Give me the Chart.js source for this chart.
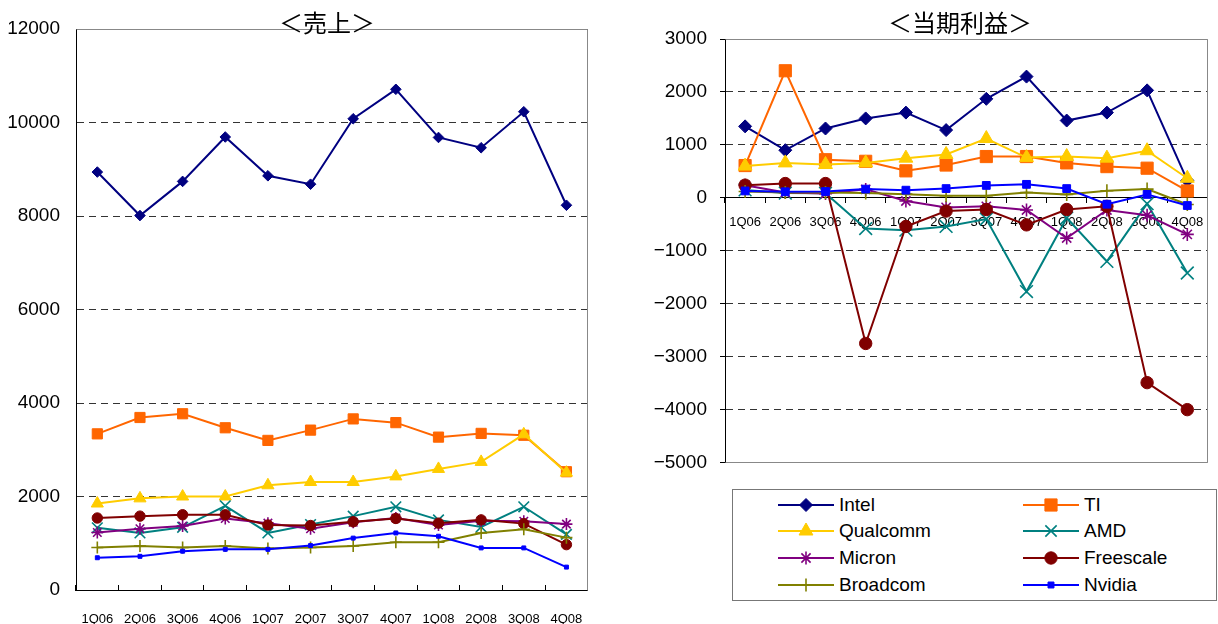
<!DOCTYPE html>
<html>
<head>
<meta charset="utf-8">
<title>売上・当期利益</title>
<script src="https://cdn.jsdelivr.net/npm/chart.js@4.4.1/dist/chart.umd.min.js"></script>
<style>
  html, body { margin: 0; padding: 0; background: #fff; }
  #page { position: relative; width: 1218px; height: 624px; overflow: hidden; font-family: "Liberation Sans", Arial, sans-serif; color: #000; }
  #page canvas { position: absolute; }
  #salesChart { left: 0; top: 0; }
  #profitChart { left: 610px; top: 0; }
  .title { position: absolute; top: 10px; font-family: "Noto Sans CJK JP", sans-serif; font-size: 24px; line-height: 24px; white-space: nowrap; transform: translateX(-50%); }
  #legendBox { position: absolute; left: 732px; top: 489px; width: 485px; height: 112px; box-sizing: border-box; border: 1px solid #777; }
  .legend-item { position: absolute; height: 24px; display: flex; align-items: center; font-size: 19px; white-space: nowrap; }
  .legend-item canvas { position: static !important; margin-right: 5px; }
</style>
</head>
<body>
<div id="page">
  <canvas id="salesChart" width="610" height="624"></canvas>
  <canvas id="profitChart" width="608" height="487"></canvas>
  <div class="title" style="left:327px">＜売上＞</div>
  <div class="title" style="left:960px">＜当期利益＞</div>
  <div id="legendBox"></div>
  <div id="legend"></div>
</div>
<script>
const quarters = ["1Q06", "2Q06", "3Q06", "4Q06", "1Q07", "2Q07", "3Q07", "4Q07", "1Q08", "2Q08", "3Q08", "4Q08"];
const companies = ["Intel", "TI", "Qualcomm", "AMD", "Micron", "Freescale", "Broadcom", "Nvidia"];

// 売上
const salesIntel = [8940, 8010, 8740, 9690, 8860, 8680, 10080, 10710, 9680, 9460, 10230, 8230];
const salesTI = [3340, 3690, 3770, 3470, 3200, 3420, 3660, 3580, 3270, 3350, 3310, 2530];
const salesQualcomm = [1850, 1960, 2000, 2000, 2240, 2310, 2310, 2430, 2590, 2740, 3330, 2510];
const salesAMD = [1330, 1220, 1340, 1800, 1220, 1400, 1580, 1780, 1500, 1350, 1780, 1190];
const salesMicron = [1230, 1310, 1370, 1530, 1430, 1310, 1450, 1540, 1390, 1480, 1470, 1410];
const salesFreescale = [1540, 1580, 1610, 1610, 1390, 1380, 1460, 1530, 1430, 1500, 1420, 970];
const salesBroadcom = [910, 940, 910, 940, 890, 910, 940, 1020, 1020, 1220, 1300, 1120];
const salesNvidia = [690, 720, 830, 870, 870, 950, 1110, 1220, 1150, 900, 900, 490];

// 当期利益
const profitIntel = [1350, 900, 1310, 1500, 1610, 1280, 1870, 2290, 1460, 1610, 2030, 330];
const profitTI = [610, 2400, 720, 690, 510, 620, 780, 780, 660, 590, 560, 130];
const profitQualcomm = [600, 660, 630, 660, 750, 820, 1120, 760, 780, 750, 890, 370];
const profitAMD = [150, 90, 85, -580, -610, -540, -400, -1770, -380, -1200, -110, -1420];
const profitMicron = [240, 100, 80, 160, -60, -180, -160, -230, -760, -230, -330, -690];
const profitFreescale = [240, 270, 270, -2750, -540, -250, -220, -510, -220, -160, -3490, -4000];
const profitBroadcom = [120, 100, 100, 90, 70, 40, 40, 100, 65, 135, 165, -125];
const profitNvidia = [130, 115, 120, 165, 145, 175, 235, 255, 175, -120, 65, -145];

const salesTicks = [0, 2000, 4000, 6000, 8000, 10000, 12000];
const profitTicks = [-5000, -4000, -3000, -2000, -1000, 0, 1000, 2000, 3000];

const salesSeries = [salesIntel, salesTI, salesQualcomm, salesAMD, salesMicron, salesFreescale, salesBroadcom, salesNvidia];
const profitSeries = [profitIntel, profitTI, profitQualcomm, profitAMD, profitMicron, profitFreescale, profitBroadcom, profitNvidia];

const seriesColors = ["#000080", "#FF6600", "#FFCC00", "#008080", "#800080", "#800000", "#808000", "#0000FF"];
const pointStyles = ["rectRot", "rect", "triangle", "crossRot", "star", "circle", "cross", "rect"];
const salesRadii = [5.3, 7.2, 7, 7.5, 6, 5.2, 6, 2.8];
const profitRadii = [6.5, 8.6, 8, 9, 6.5, 6.2, 6.5, 5.5];
const legendRadii = [6.5, 8.6, 8, 8, 6.5, 6.2, 6.5, 4.2];
const strokeOnly = ["crossRot", "star", "cross"];

Chart.defaults.font.family = "'Liberation Sans', Arial, sans-serif";
Chart.defaults.color = "#000";

function buildDatasets(seriesList, radii) {
  return companies.map((name, i) => ({
    label: name,
    data: seriesList[i],
    borderColor: seriesColors[i],
    backgroundColor: seriesColors[i],
    borderWidth: 2,
    pointStyle: pointStyles[i],
    pointRadius: radii[i],
    pointHoverRadius: radii[i],
    pointBackgroundColor: seriesColors[i],
    pointBorderColor: seriesColors[i],
    pointBorderWidth: strokeOnly.includes(pointStyles[i]) ? 1.6 : 1,
    tension: 0,
    fill: false,
    clip: false,
    order: -i
  }));
}

function tickText(value) {
  return value < 0 ? "\u2212" + Math.abs(value) : String(value);
}

// gray frame on top / right (and bottom) of the plot area
const framePlugin = {
  id: "frame",
  beforeDatasetsDraw(chart, args, opts) {
    const { ctx, chartArea } = chart;
    const l = Math.floor(chartArea.left) + 0.5;
    const r = Math.floor(chartArea.right) + 0.5;
    const t = Math.floor(chartArea.top) + 0.5;
    const b = Math.floor(chartArea.bottom) + 0.5;
    ctx.save();
    ctx.strokeStyle = "#888";
    ctx.lineWidth = 1;
    ctx.beginPath();
    ctx.moveTo(l, t);
    ctx.lineTo(r, t);
    ctx.lineTo(r, b);
    if (opts.bottom) {
      ctx.lineTo(l, b);
    }
    ctx.stroke();
    ctx.restore();
  }
};

new Chart(document.getElementById("salesChart"), {
  type: "line",
  data: { labels: quarters, datasets: buildDatasets(salesSeries, salesRadii) },
  plugins: [framePlugin],
  options: {
    responsive: false,
    animation: false,
    layout: { padding: { left: 0, top: 29, right: 16, bottom: 0 } },
    plugins: {
      legend: { display: false },
      tooltip: { enabled: false },
      frame: { bottom: false }
    },
    scales: {
      x: {
        type: "category",
        offset: true,
        afterFit(scale) { scale.height = 34; },
        grid: { offset: true, drawOnChartArea: false, drawTicks: true, tickLength: -5, tickColor: "#000" },
        border: { color: "#000", width: 1 },
        ticks: { font: { size: 13 }, color: "#000", padding: 27, maxRotation: 0, autoSkip: false }
      },
      y: {
        min: salesTicks[0],
        max: salesTicks[salesTicks.length - 1],
        afterFit(scale) { scale.width = 76; },
        afterBuildTicks(scale) { scale.ticks = salesTicks.map((v) => ({ value: v })); },
        grid: { color: "#333", lineWidth: 1, drawTicks: false },
        border: { color: "#000", width: 1, dash: [7, 5] },
        ticks: { font: { size: 19 }, color: "#000", padding: 16, callback: tickText }
      }
    }
  }
});

new Chart(document.getElementById("profitChart"), {
  type: "line",
  data: { labels: quarters, datasets: buildDatasets(profitSeries, profitRadii) },
  plugins: [framePlugin],
  options: {
    responsive: false,
    animation: false,
    layout: { padding: { left: 0, top: 39, right: 2, bottom: 14 } },
    plugins: {
      legend: { display: false },
      tooltip: { enabled: false },
      frame: { bottom: true }
    },
    scales: {
      x: {
        type: "category",
        offset: true,
        position: { y: 0 },
        afterFit(scale) { scale.height = 0; },
        grid: { offset: true, drawOnChartArea: false, drawTicks: true, tickLength: 5, tickColor: "#000" },
        border: { color: "#000", width: 1 },
        ticks: { font: { size: 13 }, color: "#000", padding: 12, maxRotation: 0, autoSkip: false }
      },
      y: {
        min: profitTicks[0],
        max: profitTicks[profitTicks.length - 1],
        afterFit(scale) { scale.width = 115; },
        afterBuildTicks(scale) { scale.ticks = profitTicks.map((v) => ({ value: v })); },
        grid: { color: "#333", lineWidth: 1, drawTicks: true, tickLength: 5, tickColor: "#000", tickBorderDash: [] },
        border: { color: "#000", width: 1, dash: [7, 5] },
        ticks: { font: { size: 19 }, color: "#000", padding: 13, callback: tickText }
      }
    }
  }
});

// legend: two columns inside the box under the profit chart
const legendEl = document.getElementById("legend");
const legendCols = [778, 1023];
const legendRows = [505, 531, 558, 585];

companies.forEach((name, i) => {
  const item = document.createElement("div");
  item.className = "legend-item";
  item.style.left = legendCols[i % 2] + "px";
  item.style.top = (legendRows[Math.floor(i / 2)] - 12) + "px";

  const swatch = document.createElement("canvas");
  swatch.width = 56;
  swatch.height = 24;
  const ctx = swatch.getContext("2d");
  ctx.strokeStyle = seriesColors[i];
  ctx.lineWidth = 2;
  ctx.beginPath();
  ctx.moveTo(0, 12);
  ctx.lineTo(56, 12);
  ctx.stroke();
  ctx.fillStyle = seriesColors[i];
  ctx.strokeStyle = seriesColors[i];
  const bw = strokeOnly.includes(pointStyles[i]) ? 1.6 : 1;
  ctx.lineWidth = bw;
  Chart.helpers.drawPoint(ctx, { pointStyle: pointStyles[i], radius: legendRadii[i], rotation: 0, borderWidth: bw }, 28, 12);

  const label = document.createElement("span");
  label.textContent = name;

  item.appendChild(swatch);
  item.appendChild(label);
  legendEl.appendChild(item);
});
</script>
</body>
</html>
